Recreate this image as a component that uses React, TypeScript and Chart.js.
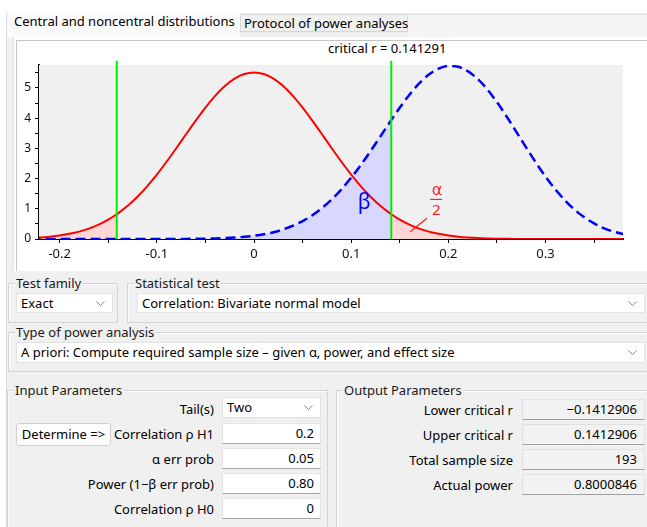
import React, { useEffect, useRef } from "react";
import { Chart, registerables } from "chart.js";

Chart.register(...registerables);

// ---------- data ----------
const criticalR = 0.141291;
const rValues = [
  -0.23, -0.22, -0.21, -0.2, -0.19, -0.18, -0.17, -0.16, -0.15, -0.141291, -0.14, -0.13, -0.12, -0.11,
  -0.1, -0.09, -0.08, -0.07, -0.06, -0.05, -0.04, -0.03, -0.02, -0.01, 0,
  0.01, 0.02, 0.03, 0.04, 0.05, 0.06, 0.07, 0.08, 0.09, 0.1, 0.11, 0.12, 0.13, 0.14, 0.141291,
  0.15, 0.16, 0.17, 0.18, 0.19, 0.2, 0.21, 0.22, 0.23, 0.24, 0.25, 0.26, 0.27, 0.28, 0.29,
  0.3, 0.31, 0.32, 0.33, 0.34, 0.35, 0.36, 0.37, 0.38, 0.39,
];
// central distribution (H0, rho = 0)
const h0Density = [
  0.032, 0.051, 0.078, 0.117, 0.171, 0.245, 0.345, 0.475, 0.642, 0.82, 0.849, 1.101, 1.4, 1.745,
  2.132, 2.557, 3.005, 3.466, 3.921, 4.352, 4.739, 5.063, 5.308, 5.461, 5.513,
  5.461, 5.308, 5.063, 4.739, 4.352, 3.921, 3.466, 3.005, 2.557, 2.132, 1.745, 1.4, 1.101, 0.849, 0.82,
  0.642, 0.475, 0.345, 0.245, 0.171, 0.117, 0.078, 0.051, 0.032, 0.02, 0.012, 0.007, 0.004, 0.002, 0.001,
  0, 0, 0, 0, 0, 0, 0, 0, 0, 0,
];
// noncentral distribution (H1, rho = 0.2)
const h1Density = [
  0, 0, 0, 0, 0, 0, 0, 0, 0, 0, 0, 0, 0, 0,
  0.001, 0.0015, 0.0025, 0.004, 0.007, 0.012, 0.02, 0.031, 0.048, 0.073, 0.109,
  0.158, 0.226, 0.318, 0.438, 0.592, 0.786, 1.025, 1.311, 1.646, 2.029, 2.454, 2.912, 3.393, 3.876, 3.938,
  4.344, 4.776, 5.149, 5.443, 5.64, 5.728, 5.7, 5.556, 5.303, 4.955, 4.532, 4.055, 3.547, 3.034, 2.536,
  2.069, 1.648, 1.281, 0.971, 0.717, 0.516, 0.361, 0.246, 0.162, 0.104,
];
const xTickValues = [-0.2, -0.1, 0, 0.1, 0.2, 0.3];
const xTickLabels = ["-0.2", "-0.1", "0", "0.1", "0.2", "0.3"];
const yTickValues = [0, 1, 2, 3, 4, 5];
const yTickLabels = ["0", "1", "2", "3", "4", "5"];
const xMin = -0.2213;
const xMax = 0.3798;
const yMax = 5.76;
const greenTop = 5.9;

const chartTitle = "critical r = 0.141291";

const FONT = '"Noto Sans", "DejaVu Sans", sans-serif';

function pts(ys: number[], keep: (x: number) => boolean) {
  const out: { x: number; y: number }[] = [];
  rValues.forEach((x, i) => {
    if (keep(x)) out.push({ x, y: ys[i] });
  });
  return out;
}

function labelFor(v: number, vals: number[], labels: string[]) {
  for (let i = 0; i < vals.length; i++) if (Math.abs(v - vals[i]) < 1e-6) return labels[i];
  return "";
}

const annotationPlugin = {
  id: "gpowerAnnotations",
  afterDatasetsDraw(chart: any) {
    const { ctx, scales } = chart;
    const X = (v: number) => scales.x.getPixelForValue(v);
    const Y = (v: number) => scales.y.getPixelForValue(v);
    ctx.save();
    ctx.textAlign = "center";
    ctx.textBaseline = "middle";
    ctx.fillStyle = "#0000ff";
    ctx.font = `21px ${FONT}`;
    ctx.fillText("β", X(0.1134), Y(1.2));
    ctx.fillStyle = "#ff2020";
    ctx.font = `16px "DejaVu Sans", sans-serif`;
    ctx.fillText("α", X(0.1883), Y(1.6));
    ctx.font = `15px ${FONT}`;
    ctx.fillText("2", X(0.1876), Y(0.95));
    ctx.strokeStyle = "#ff2020";
    ctx.lineWidth = 1.2;
    ctx.beginPath();
    ctx.moveTo(X(0.1814), Y(1.31));
    ctx.lineTo(X(0.1936), Y(1.31));
    ctx.stroke();
    ctx.lineWidth = 1.3;
    ctx.beginPath();
    ctx.moveTo(X(0.1608), Y(0.24));
    ctx.lineTo(X(0.178), Y(0.69));
    ctx.stroke();
    ctx.restore();
  },
};

const bgPlugin = {
  id: "plotBg",
  beforeDatasetsDraw(chart: any) {
    const { ctx, chartArea } = chart;
    ctx.save();
    ctx.fillStyle = "#f0f0f0";
    ctx.fillRect(chartArea.left, chartArea.top, chartArea.right - chartArea.left, chartArea.bottom - chartArea.top);
    ctx.restore();
  },
};

function DistChart() {
  const ref = useRef<HTMLCanvasElement>(null);
  useEffect(() => {
    if (!ref.current) return;
    const chart = new Chart(ref.current, {
      type: "line",
      data: {
        datasets: [
          {
            data: [
              { x: -criticalR, y: 0 },
              { x: -criticalR, y: greenTop },
            ],
            borderColor: "#00ee00",
            borderWidth: 2,
            pointRadius: 0,
            fill: false,
            clip: false,
            order: 1,
          } as any,
          {
            data: [
              { x: criticalR, y: 0 },
              { x: criticalR, y: greenTop },
            ],
            borderColor: "#00ee00",
            borderWidth: 2,
            pointRadius: 0,
            fill: false,
            clip: false,
            order: 1,
          },
          {
            data: pts(h0Density, () => true),
            borderColor: "#ff0000",
            borderWidth: 2,
            pointRadius: 0,
            fill: false,
            cubicInterpolationMode: "monotone",
            order: 2,
          },
          {
            data: pts(h1Density, () => true),
            borderColor: "#0000ff",
            borderWidth: 2.5,
            borderDash: [10, 5],
            pointRadius: 0,
            fill: false,
            cubicInterpolationMode: "monotone",
            order: 3,
          },
          {
            data: pts(h0Density, (x) => x <= -criticalR + 1e-9),
            borderWidth: 0,
            borderColor: "rgba(0,0,0,0)",
            backgroundColor: "#ffd6d6",
            pointRadius: 0,
            fill: "origin",
            cubicInterpolationMode: "monotone",
            order: 4,
          },
          {
            data: pts(h0Density, (x) => x >= criticalR - 1e-9),
            borderWidth: 0,
            borderColor: "rgba(0,0,0,0)",
            backgroundColor: "#ffd6d6",
            pointRadius: 0,
            fill: "origin",
            cubicInterpolationMode: "monotone",
            order: 4,
          },
          {
            data: pts(h1Density, (x) => x <= criticalR + 1e-9),
            borderWidth: 0,
            borderColor: "rgba(0,0,0,0)",
            backgroundColor: "#d8d8ff",
            pointRadius: 0,
            fill: "origin",
            cubicInterpolationMode: "monotone",
            order: 5,
          },
        ],
      },
      options: {
        responsive: false,
        animation: false,
        devicePixelRatio: 1,
        parsing: false as any,
        layout: { padding: { top: 24, right: 24, left: 0, bottom: 0 } },
        plugins: {
          legend: { display: false },
          tooltip: { enabled: false },
          title: { display: false },
        },
        scales: {
          x: {
            type: "linear",
            min: xMin,
            max: xMax,
            afterFit: (s: any) => {
              s.height = 30;
            },
            border: { display: true, color: "#000", width: 2 },
            grid: { drawOnChartArea: false, drawTicks: true, tickLength: 4, color: "#000" },
            ticks: {
              stepSize: 0.05,
              autoSkip: false,
              maxRotation: 0,
              includeBounds: false,
              padding: 3,
              color: "#111",
              font: { family: FONT, size: 13 },
              callback: (v: any) => labelFor(Number(v), xTickValues, xTickLabels),
            },
          },
          y: {
            type: "linear",
            min: 0,
            max: yMax,
            afterFit: (s: any) => {
              s.width = 22;
            },
            border: { display: true, color: "#000", width: 2 },
            grid: { drawOnChartArea: false, drawTicks: true, tickLength: 4, color: "#000" },
            ticks: {
              stepSize: 0.5,
              autoSkip: false,
              includeBounds: false,
              padding: 4,
              color: "#111",
              font: { family: FONT, size: 12 },
              callback: (v: any) => labelFor(Number(v), yTickValues, yTickLabels),
            },
          },
        },
      },
      plugins: [bgPlugin, annotationPlugin],
    } as any);
    return () => chart.destroy();
  }, []);
  return (
    <canvas
      ref={ref}
      width={630}
      height={228}
      style={{ position: "absolute", left: 17, top: 41, width: 630, height: 228 }}
    />
  );
}

const abs = (left: number, top: number, extra: any = {}) => ({ position: "absolute" as const, left, top, ...extra });

function Chevron() {
  return (
    <svg width="9" height="6" style={{ position: "absolute", right: 7, top: 7 }}>
      <polyline points="0.5,0.5 4.5,4.5 8.5,0.5" fill="none" stroke="#8a8a8a" strokeWidth="1" />
    </svg>
  );
}

function Combo({ x, y, w, h, text }: { x: number; y: number; w: number; h: number; text: string }) {
  return (
    <div
      style={abs(x, y, {
        width: w,
        height: h,
        boxSizing: "border-box",
        background: "#fff",
        border: "1px solid #e2e2e2",
        fontSize: 13,
        lineHeight: `${h - 2}px`,
        paddingLeft: 4,
        color: "#000",
        whiteSpace: "nowrap",
      })}
    >
      {text}
      <Chevron />
    </div>
  );
}

function Group({ x, y, w, h, title }: { x: number; y: number; w: number; h: number; title: string }) {
  return (
    <div
      style={abs(x, y, {
        width: w,
        height: h,
        boxSizing: "border-box",
        border: "1px solid #d4d4d4",
        boxShadow: "inset 1px 1px 0 #fbfbfb",
      })}
    >
      <span
        style={{
          position: "absolute",
          left: 6,
          top: -10,
          background: "#f0f0f0",
          padding: "0 1px",
          fontSize: 13,
          lineHeight: "18px",
          color: "#1a1a1a",
          whiteSpace: "nowrap",
        }}
      >
        {title}
      </span>
    </div>
  );
}

function RLabel({ right, cy, text }: { right: number; cy: number; text: string }) {
  return (
    <div
      style={abs(right - 200, cy - 9, {
        width: 200,
        textAlign: "right",
        fontSize: 13,
        lineHeight: "18px",
        color: "#000",
        whiteSpace: "nowrap",
      })}
    >
      {text}
    </div>
  );
}

function InBox({ y, text }: { y: number; text: string }) {
  return (
    <div
      style={abs(222, y, {
        width: 99,
        height: 21,
        boxSizing: "border-box",
        background: "#fff",
        border: "1px solid #e4e4e4",
        borderBottom: "1px solid #a8a8a8",
        textAlign: "right",
        paddingRight: 6,
        fontSize: 13,
        lineHeight: "19px",
        color: "#000",
      })}
    >
      {text}
    </div>
  );
}

function OutBox({ y, text }: { y: number; text: string }) {
  return (
    <div
      style={abs(522, y, {
        width: 123,
        height: 21,
        boxSizing: "border-box",
        background: "#f2f2f2",
        border: "1px solid #e0e0e0",
        borderBottom: "1px solid #a0a0a0",
        textAlign: "right",
        paddingRight: 7,
        fontSize: 13,
        lineHeight: "19px",
        color: "#000",
      })}
    >
      {text}
    </div>
  );
}

const inputLabels = ["Tail(s)", "Correlation ρ H1", "α err prob", "Power (1−β err prob)", "Correlation ρ H0"];
const inputValues = ["0.2", "0.05", "0.80", "0"];
const outputLabels = ["Lower critical r", "Upper critical r", "Total sample size", "Actual power"];
const outputValues = ["−0.1412906", "0.1412906", "193", "0.8000846"];

export default function App() {
  return (
    <div
      style={{
        position: "absolute",
        left: 0,
        top: 0,
        width: 647,
        height: 527,
        overflow: "hidden",
        background: "#f0f0f0",
        fontFamily: FONT,
      }}
    >
      {/* top white strip and left edge */}
      <div style={abs(0, 0, { width: 647, height: 13, background: "#fff" })} />
      <div style={abs(0, 0, { width: 6, height: 527, background: "#fff" })} />
      <div style={abs(6, 13, { width: 1, height: 514, background: "#dcdcdc" })} />

      {/* tabs */}
      <div style={abs(7, 13, { width: 233, height: 25, background: "#fafafa" })} />
      <div
        style={abs(14, 12, { fontSize: 13, lineHeight: "18px", color: "#000", whiteSpace: "nowrap" })}
      >
        Central and noncentral distributions
      </div>
      <div
        style={abs(240, 14, {
          width: 168,
          height: 18,
          boxSizing: "border-box",
          background: "#f0f0f0",
          border: "1px solid #d6d6d6",
          fontSize: 13,
          lineHeight: "16px",
          paddingLeft: 3,
          color: "#000",
          whiteSpace: "nowrap",
        })}
      >
        Protocol of power analyses
      </div>
      <div style={abs(408, 14, { width: 239, height: 24, background: "#f4f4f4", borderTop: "1px solid #e2e2e2" })} />

      {/* chart panel */}
      <div style={abs(13, 37, { width: 634, height: 234, background: "#fff", borderLeft: "1px solid #e0e0e0" })} />
      <div
        style={abs(16, 40, {
          width: 631,
          height: 231,
          boxSizing: "border-box",
          borderTop: "1px solid #c4c4c4",
          borderLeft: "1px solid #c4c4c4",
        })}
      />
      <div style={abs(328, 41, { fontSize: 13, lineHeight: "14px", color: "#000", whiteSpace: "nowrap" })}>
        {chartTitle}
      </div>
      <DistChart />

      {/* selection groups */}
      <Group x={8} y={283} w={110} h={40} title="Test family" />
      <Combo x={16} y={293} w={97} h={20} text="Exact" />
      <Group x={127} y={283} w={540} h={40} title="Statistical test" />
      <Combo x={137} y={293} w={508} h={20} text="Correlation: Bivariate normal model" />
      <Group x={8} y={332} w={660} h={40} title="Type of power analysis" />
      <Combo x={16} y={342} w={629} h={21} text="A priori: Compute required sample size – given α, power, and effect size" />

      {/* input parameters */}
      <Group x={7} y={390} w={321} h={160} title="Input Parameters" />
      {inputLabels.map((t, i) => (
        <RLabel key={t} right={214} cy={409 + i * 25} text={t} />
      ))}
      <Combo x={222} y={397} w={99} h={21} text="Two" />
      {inputValues.map((v, i) => (
        <InBox key={i} y={423 + i * 25} text={v} />
      ))}
      <div
        style={abs(16, 423, {
          width: 95,
          height: 23,
          boxSizing: "border-box",
          background: "#fdfdfd",
          border: "1px solid #cfcfcf",
          borderRadius: 3,
          fontSize: 13,
          lineHeight: "21px",
          textAlign: "center",
          color: "#000",
          whiteSpace: "nowrap",
        })}
      >
        Determine =&gt;
      </div>

      {/* output parameters */}
      <Group x={336} y={390} w={330} h={160} title="Output Parameters" />
      {outputLabels.map((t, i) => (
        <RLabel key={t} right={513} cy={410 + i * 25} text={t} />
      ))}
      {outputValues.map((v, i) => (
        <OutBox key={i} y={399 + i * 25} text={v} />
      ))}
    </div>
  );
}
